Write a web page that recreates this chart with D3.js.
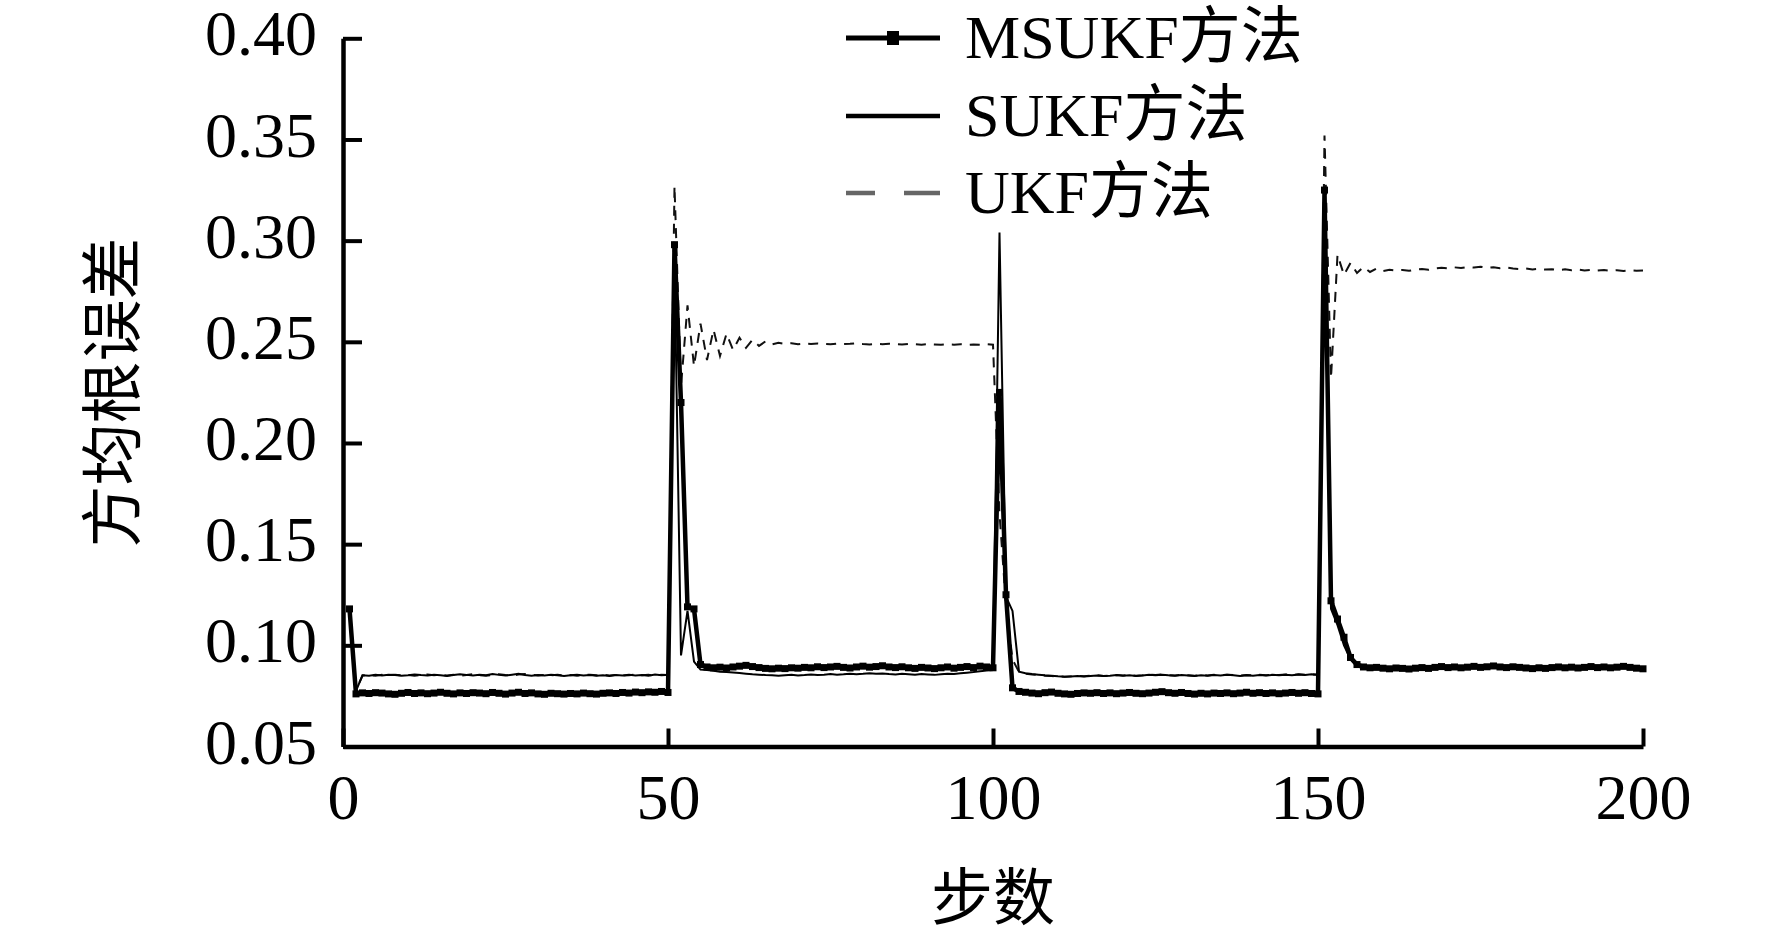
<!DOCTYPE html>
<html>
<head>
<meta charset="utf-8">
<script src="https://cdn.jsdelivr.net/npm/d3@7"></script>
<style>
  html, body { margin: 0; padding: 0; background: #fff; }
  svg text { font-family: "Liberation Serif", "Times New Roman", "Noto Sans CJK SC", serif; fill: #000; }
</style>
</head>
<body>
<svg id="chart" width="1772" height="938"></svg>
<script>
// ---- data (steps 1..200) ----
const seriesNames = ["MSUKF方法", "SUKF方法", "UKF方法"];
const xTickValues = [0, 50, 100, 150, 200];
const yTickValues = [0.05, 0.10, 0.15, 0.20, 0.25, 0.30, 0.35, 0.40];
const xLabel = "步数";
const yLabel = "方均根误差";

const msukf = [
  0.118, 0.0760, 0.0765, 0.0762, 0.0766, 0.0764, 0.0760, 0.0758, 0.0763, 0.0767,
  0.0762, 0.0765, 0.0761, 0.0764, 0.0768, 0.0763, 0.0760, 0.0765, 0.0762, 0.0766,
  0.0764, 0.0761, 0.0767, 0.0763, 0.0759, 0.0764, 0.0768, 0.0762, 0.0765, 0.0760,
  0.0758, 0.0763, 0.0761, 0.0759, 0.0762, 0.0760, 0.0764, 0.0761, 0.0759, 0.0763,
  0.0765, 0.0762, 0.0767, 0.0764, 0.0769, 0.0766, 0.0770, 0.0768, 0.0772, 0.0767,
  0.298, 0.220, 0.119, 0.118, 0.0905, 0.0893, 0.0889, 0.0892, 0.0888, 0.0893,
  0.0897, 0.0901, 0.0895, 0.0890, 0.0886, 0.0884, 0.0887, 0.0885, 0.0889, 0.0887,
  0.0891, 0.0889, 0.0894, 0.0890, 0.0893, 0.0896, 0.0891, 0.0888, 0.0893, 0.0897,
  0.0892, 0.0895, 0.0899, 0.0893, 0.0890, 0.0894, 0.0889, 0.0886, 0.0891, 0.0888,
  0.0885, 0.0889, 0.0893, 0.0887, 0.0891, 0.0895, 0.0890, 0.0897, 0.0893, 0.0889,
  0.225, 0.125, 0.0790, 0.0772, 0.0768, 0.0764, 0.0761, 0.0766, 0.0769, 0.0763,
  0.0760, 0.0758, 0.0762, 0.0765, 0.0763, 0.0766, 0.0762, 0.0765, 0.0761, 0.0764,
  0.0767, 0.0763, 0.0761, 0.0764, 0.0768, 0.0771, 0.0766, 0.0763, 0.0767, 0.0762,
  0.0759, 0.0763, 0.0760, 0.0764, 0.0762, 0.0765, 0.0761, 0.0764, 0.0768, 0.0763,
  0.0766, 0.0762, 0.0765, 0.0761, 0.0764, 0.0767, 0.0763, 0.0766, 0.0762, 0.0760,
  0.325, 0.122, 0.113, 0.104, 0.094, 0.0905, 0.0893, 0.0889, 0.0891, 0.0887,
  0.0884, 0.0888, 0.0886, 0.0883, 0.0887, 0.0890, 0.0886, 0.0891, 0.0895, 0.0890,
  0.0893, 0.0889, 0.0892, 0.0896, 0.0891, 0.0894, 0.0898, 0.0893, 0.0890, 0.0894,
  0.0891, 0.0888, 0.0885, 0.0889, 0.0886, 0.0890, 0.0893, 0.0889, 0.0892, 0.0888,
  0.0891, 0.0895, 0.0890, 0.0893, 0.0889, 0.0892, 0.0896, 0.0891, 0.0887, 0.0884
];

const sukf = [
  0.118, 0.0775, 0.0852, 0.0850, 0.0854, 0.0851, 0.0855, 0.0853, 0.0850, 0.0852,
  0.0856, 0.0853, 0.0851, 0.0854, 0.0852, 0.0849, 0.0853, 0.0857, 0.0854, 0.0851,
  0.0855, 0.0852, 0.0858, 0.0854, 0.0851, 0.0855, 0.0859, 0.0853, 0.0850, 0.0853,
  0.0851, 0.0854, 0.0852, 0.0849, 0.0852, 0.0855, 0.0851, 0.0853, 0.0850, 0.0852,
  0.0849, 0.0853, 0.0851, 0.0854, 0.0851, 0.0853, 0.0850, 0.0856, 0.0852, 0.0854,
  0.288, 0.095, 0.117, 0.092, 0.0880, 0.0878, 0.0874, 0.0870, 0.0868, 0.0866,
  0.0863, 0.0860, 0.0857, 0.0855, 0.0853, 0.0852, 0.0850, 0.0852, 0.0854, 0.0851,
  0.0853, 0.0856, 0.0853, 0.0855, 0.0858, 0.0855, 0.0857, 0.0860, 0.0857, 0.0859,
  0.0862, 0.0859, 0.0861, 0.0858, 0.0856, 0.0859, 0.0857, 0.0855, 0.0858, 0.0856,
  0.0854, 0.0857, 0.0860, 0.0858, 0.0862, 0.0865, 0.0868, 0.0872, 0.0875, 0.0878,
  0.304, 0.124, 0.117, 0.0870, 0.0862, 0.0858, 0.0855, 0.0852, 0.0850, 0.0847,
  0.0845, 0.0846, 0.0848, 0.0846, 0.0849, 0.0851, 0.0848, 0.0850, 0.0853, 0.0850,
  0.0852, 0.0849, 0.0851, 0.0854, 0.0852, 0.0855, 0.0852, 0.0850, 0.0853, 0.0851,
  0.0849, 0.0852, 0.0850, 0.0853, 0.0851, 0.0854, 0.0852, 0.0849, 0.0852, 0.0850,
  0.0853, 0.0851, 0.0854, 0.0852, 0.0855, 0.0852, 0.0856, 0.0853, 0.0857, 0.0855,
  0.320, 0.118, 0.110, 0.100, 0.093, 0.0895, 0.0888, 0.0885, 0.0887, 0.0884,
  0.0881, 0.0884, 0.0882, 0.0880, 0.0883, 0.0886, 0.0883, 0.0886, 0.0889, 0.0886,
  0.0888, 0.0885, 0.0888, 0.0891, 0.0887, 0.0889, 0.0892, 0.0888, 0.0886, 0.0889,
  0.0887, 0.0884, 0.0882, 0.0885, 0.0883, 0.0886, 0.0888, 0.0885, 0.0887, 0.0884,
  0.0887, 0.0890, 0.0886, 0.0888, 0.0885, 0.0887, 0.0890, 0.0886, 0.0883, 0.0881
];

const ukf = [
  0.118, 0.0778, 0.0851, 0.0853, 0.0850, 0.0854, 0.0852, 0.0855, 0.0851, 0.0853,
  0.0850, 0.0854, 0.0856, 0.0852, 0.0855, 0.0851, 0.0854, 0.0850, 0.0853, 0.0857,
  0.0853, 0.0850, 0.0854, 0.0857, 0.0853, 0.0850, 0.0856, 0.0858, 0.0854, 0.0851,
  0.0854, 0.0852, 0.0855, 0.0851, 0.0853, 0.0850, 0.0853, 0.0855, 0.0852, 0.0854,
  0.0851, 0.0853, 0.0850, 0.0852, 0.0855, 0.0852, 0.0854, 0.0851, 0.0855, 0.0853,
  0.327, 0.228, 0.268, 0.238, 0.259, 0.241, 0.256, 0.243, 0.254, 0.246,
  0.252, 0.247, 0.251, 0.2480, 0.2502, 0.2487, 0.2495, 0.2490, 0.2493, 0.2488,
  0.2491, 0.2489, 0.2492, 0.2490, 0.2488, 0.2491, 0.2489, 0.2490, 0.2492, 0.2489,
  0.2487, 0.2490, 0.2488, 0.2491, 0.2489, 0.2487, 0.2490, 0.2488, 0.2486, 0.2489,
  0.2487, 0.2485, 0.2488, 0.2486, 0.2488, 0.2485, 0.2487, 0.2486, 0.2488, 0.2486,
  0.165, 0.120, 0.093, 0.0868, 0.0860, 0.0856, 0.0853, 0.0850, 0.0848, 0.0846,
  0.0845, 0.0847, 0.0849, 0.0847, 0.0850, 0.0852, 0.0849, 0.0851, 0.0853, 0.0851,
  0.0853, 0.0850, 0.0852, 0.0855, 0.0853, 0.0856, 0.0853, 0.0851, 0.0854, 0.0852,
  0.0850, 0.0853, 0.0851, 0.0854, 0.0852, 0.0855, 0.0853, 0.0850, 0.0853, 0.0851,
  0.0854, 0.0852, 0.0855, 0.0853, 0.0856, 0.0853, 0.0857, 0.0854, 0.0856, 0.0854,
  0.352, 0.232, 0.293, 0.283, 0.289, 0.284, 0.287, 0.2845, 0.2862, 0.2850,
  0.2856, 0.2852, 0.2855, 0.2851, 0.2857, 0.2860, 0.2856, 0.2862, 0.2866, 0.2863,
  0.2868, 0.2865, 0.2870, 0.2867, 0.2871, 0.2866, 0.2869, 0.2864, 0.2867, 0.2862,
  0.2860, 0.2863, 0.2858, 0.2861, 0.2857, 0.2859, 0.2855, 0.2858, 0.2854, 0.2857,
  0.2853, 0.2856, 0.2852, 0.2855, 0.2851, 0.2854, 0.2850, 0.2853, 0.2851, 0.2852
];

// ---- layout ----
const svg = d3.select("#chart");
const X0 = 343, X1 = 1643, Y0 = 746.5, Y1 = 38.3;

const x = d3.scaleLinear().domain([0, 200]).range([X0, X1]);
const y = d3.scaleLinear().domain([0.05, 0.40]).range([Y0, Y1]);

const toPts = arr => arr.map((v, i) => [i + 1, v]);
const line = d3.line().x(d => x(d[0])).y(d => y(d[1]));

// UKF dashed
svg.append("path")
  .datum(toPts(ukf))
  .attr("d", line)
  .attr("fill", "none")
  .attr("stroke", "#111")
  .attr("stroke-width", 2)
  .attr("stroke-dasharray", "10,8");

// SUKF thin solid
svg.append("path")
  .datum(toPts(sukf))
  .attr("d", line)
  .attr("fill", "none")
  .attr("stroke", "#000")
  .attr("stroke-width", 2);

// MSUKF thick with square markers
svg.append("path")
  .datum(toPts(msukf))
  .attr("d", line)
  .attr("fill", "none")
  .attr("stroke", "#000")
  .attr("stroke-width", 4.5);

svg.append("g")
  .selectAll("rect")
  .data(toPts(msukf))
  .join("rect")
  .attr("x", d => x(d[0]) - 3.5)
  .attr("y", d => y(d[1]) - 3.5)
  .attr("width", 7)
  .attr("height", 7)
  .attr("fill", "#000");

// ---- axes ----
const xAxis = d3.axisBottom(x)
  .tickValues(xTickValues)
  .tickFormat(d3.format("d"))
  .tickSizeInner(-18)
  .tickSizeOuter(0)
  .tickPadding(27);

const yAxis = d3.axisLeft(y)
  .tickValues(yTickValues)
  .tickFormat(d3.format(".2f"))
  .tickSizeInner(-19)
  .tickSizeOuter(0)
  .tickPadding(26);

const gx = svg.append("g").attr("transform", `translate(0,${Y0})`).call(xAxis);
const gy = svg.append("g").attr("transform", `translate(${X0},0)`).call(yAxis);

[gx, gy].forEach(g => {
  g.select(".domain").attr("stroke", "#000").attr("stroke-width", 4.5);
  g.selectAll(".tick line").attr("stroke", "#000").attr("stroke-width", 4);
  g.selectAll(".tick text")
    .style("font-family", '"Liberation Serif", "Times New Roman", serif')
    .style("font-size", "64px")
    .attr("fill", "#000");
});
gy.selectAll(".tick text").attr("dy", "0.26em");
gx.selectAll(".tick text").attr("dy", "0.71em");

// axis titles
svg.append("text")
  .attr("x", (X0 + X1) / 2)
  .attr("y", 920)
  .attr("text-anchor", "middle")
  .style("font-size", "62px")
  .text(xLabel);

svg.append("text")
  .attr("transform", `translate(135,${(Y0 + Y1) / 2}) rotate(-90)`)
  .attr("text-anchor", "middle")
  .style("font-size", "62px")
  .text(yLabel);

// ---- legend ----
const legX0 = 846, legX1 = 940, legTextX = 965;
const legY = [38, 116, 193];

const lg = svg.append("g");
// MSUKF
lg.append("line").attr("x1", legX0).attr("x2", legX1).attr("y1", legY[0]).attr("y2", legY[0])
  .attr("stroke", "#000").attr("stroke-width", 5);
lg.append("rect").attr("x", 893 - 6).attr("y", legY[0] - 7).attr("width", 12).attr("height", 14).attr("fill", "#000");
// SUKF
lg.append("line").attr("x1", legX0).attr("x2", legX1).attr("y1", legY[1]).attr("y2", legY[1])
  .attr("stroke", "#000").attr("stroke-width", 4.5);
// UKF
lg.append("line").attr("x1", legX0).attr("x2", legX1).attr("y1", legY[2]).attr("y2", legY[2])
  .attr("stroke", "#666").attr("stroke-width", 4.5).attr("stroke-dasharray", "29,29,36");

lg.selectAll("text.leg")
  .data(seriesNames)
  .join("text")
  .attr("class", "leg")
  .attr("x", legTextX)
  .attr("y", (d, i) => legY[i] + 20)
  .style("font-size", "62px")
  .text(d => d);
</script>
</body>
</html>
